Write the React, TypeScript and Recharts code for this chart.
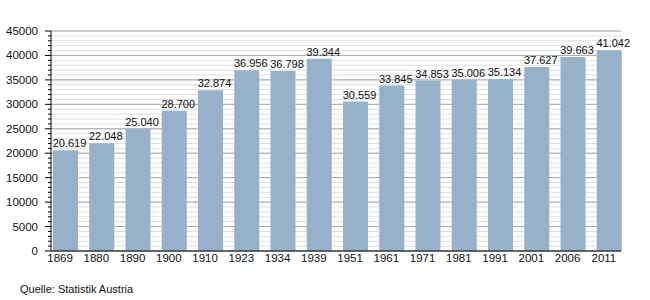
import { BarChart, Bar, XAxis, YAxis, CartesianGrid, LabelList } from 'recharts'

const years = ['1869', '1880', '1890', '1900', '1910', '1923', '1934', '1939', '1951', '1961', '1971', '1981', '1991', '2001', '2006', '2011']
const population = [20619, 22048, 25040, 28700, 32874, 36956, 36798, 39344, 30559, 33845, 34853, 35006, 35134, 37627, 39663, 41042]

const minorTicks = Array.from({ length: 46 }, (_, i) => i * 1000)
const majorTicks = [0, 5000, 10000, 15000, 20000, 25000, 30000, 35000, 40000, 45000]

const data = years.map((year, i) => ({ year, value: population[i] }))

const font = '"Liberation Sans", Arial, sans-serif'

const formatDe = (v: number) => v.toLocaleString('de-DE')

function YTick(props: any) {
  const { y, payload } = props
  const major = payload.value % 5000 === 0
  const axisX = 51
  return (
    <g>
      <line x1={axisX - (major ? 6 : 3)} x2={axisX} y1={y} y2={y} stroke="#000" />
      {major && (
        <text x={axisX - 13} y={y} dy={4} textAnchor="end" fontSize={11.5} fill="#111" fontFamily={font}>
          {payload.value}
        </text>
      )}
    </g>
  )
}

export default function App() {
  return (
    <div style={{ position: 'absolute', left: 0, top: 0, width: 650, height: 300, background: '#fff' }}>
      <BarChart
        width={650}
        height={300}
        data={data}
        margin={{ top: 31, right: 29, bottom: 0, left: 0 }}
        barSize={25}
      >
        <CartesianGrid horizontalValues={minorTicks} vertical={false} stroke="#dedede" />
        <CartesianGrid horizontalValues={majorTicks} vertical={false} stroke="#aaaaaa" />
        <XAxis
          dataKey="year"
          height={49}
          padding={{ left: -4, right: -6 }}
          axisLine={{ stroke: '#000' }}
          tickLine={false}
          tickSize={0}
          tickMargin={3}
          interval={0}
          tick={{ fill: '#111', fontSize: 11.5, fontFamily: font, dx: -5 }}
        />
        <YAxis
          width={51}
          domain={[0, 45000]}
          ticks={minorTicks}
          interval={0}
          axisLine={{ stroke: '#000' }}
          tickLine={false}
          tick={<YTick />}
        />
        <Bar dataKey="value" fill="#98b1cb" isAnimationActive={false}>
          <LabelList
            dataKey="value"
            position="top"
            offset={3}
            formatter={(v: any) => formatDe(Number(v))}
            style={{ fill: '#111', fontSize: 11, fontFamily: font }}
            dx={4}
          />
        </Bar>
      </BarChart>
      <div style={{ position: 'absolute', left: 20, top: 283, fontSize: 11, fontFamily: font, color: '#111' }}>
        Quelle: Statistik Austria
      </div>
    </div>
  )
}
